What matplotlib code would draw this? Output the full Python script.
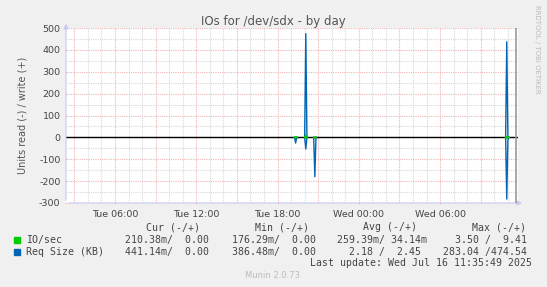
import matplotlib
matplotlib.use("Agg")
import matplotlib.pyplot as plt
from matplotlib.patches import Rectangle
import pandas as pd

# --- data ---
t_start = "2025-07-15 02:23"
t_end = "2025-07-16 11:35:49"

times = ["2025-07-15 19:15", "2025-07-15 19:20", "2025-07-15 19:25",
         "2025-07-15 20:00", "2025-07-15 20:05", "2025-07-15 20:10",
         "2025-07-15 20:40", "2025-07-15 20:45", "2025-07-15 20:50",
         "2025-07-16 10:50", "2025-07-16 10:55", "2025-07-16 11:00", "2025-07-16 11:05"]
segment = [0, 0, 0, 1, 1, 1, 2, 2, 2, 3, 3, 3, 3]
req_write = [0, 0, 0, 0, 474, 0, 0, 0, 0, 0, 437, 4, 0]
req_read = [0, -26, 0, 0, -53, 0, 0, -180, 0, 0, -282, -12, 0]
io_write = [0, 0.5, 0, 0, 9.4, 0.3, 0, 0.2, 0, 0, 3.5, 0.5, 0]
io_read = [0, -0.5, 0, 0, -1.0, 0, 0, -3.0, 0, 0, -3.5, -0.3, 0]

tick_hours = ["2025-07-15 06:00", "2025-07-15 12:00", "2025-07-15 18:00",
              "2025-07-16 00:00", "2025-07-16 06:00"]
tick_labels = ["Tue 06:00", "Tue 12:00", "Tue 18:00", "Wed 00:00", "Wed 06:00"]

legend_names = ["IO/sec", "Req Size (KB)"]
legend_colors = ["#00CC00", "#0066B3"]
col_heads = ["Cur (-/+)", "Min (-/+)", "Avg (-/+)", "Max (-/+)"]
col_rows = [["210.38m/  0.00", "176.29m/  0.00", "259.39m/ 34.14m", "3.50 /  9.41"],
            ["441.14m/  0.00", "386.48m/  0.00", "2.18 /  2.45", "283.04 /474.54"]]

W, H = 547, 287
bg = "#F0F0F0"


def px(x, y):
    return x / W, 1 - y / H


df = pd.DataFrame({"t": pd.to_datetime(times), "seg": segment,
                   "rw": req_write, "rr": req_read, "iw": io_write, "ir": io_read})

fig = plt.figure(figsize=(W / 100, H / 100), dpi=100, facecolor=bg)
ax = fig.add_axes([66 / W, 1 - 203 / H, 452 / W, 175 / H])
ax.set_facecolor("white")

x0 = pd.Timestamp(t_start)
x1 = pd.Timestamp(t_end) + pd.Timedelta(minutes=9)
ax.set_xlim(x0, x1)
ax.set_ylim(-300, 500)

# grid: red major, grey minor, dotted like rrdtool
dot = (0, (1, 1))
red_grid = "#F0B4B4"
grey_grid = "#D8D8D8"
for y in range(-300, 501, 50):
    c = red_grid if y % 100 == 0 else grey_grid
    ax.axhline(y, color=c, lw=0.8, ls=dot, zorder=1)
for h in pd.date_range("2025-07-15 03:00", "2025-07-16 11:00", freq="1h"):
    c = red_grid if h.hour % 3 == 0 else grey_grid
    ax.axvline(h, color=c, lw=0.8, ls=dot, zorder=1)

ax.axhline(0, color="black", lw=1.0, zorder=2)

for s, g in df.groupby("seg"):
    ax.plot(g.t, g.rw, color=legend_colors[1], lw=1.0, zorder=3)
    ax.plot(g.t, g.rr, color=legend_colors[1], lw=1.0, zorder=3)
    ax.plot(g.t, g.iw, color=legend_colors[0], lw=1.1, zorder=4)
    ax.plot(g.t, g.ir, color=legend_colors[0], lw=1.1, zorder=4)

ax.axvline(pd.Timestamp(t_end), color="#999999", lw=1.2, zorder=5)

for sp in ax.spines.values():
    sp.set_visible(False)
ax.annotate("", xy=(0, 1.04), xytext=(0, 0), xycoords="axes fraction",
            arrowprops=dict(arrowstyle="-|>", color="#C8C8F0", lw=0.8,
                            mutation_scale=7), annotation_clip=False)
ax.annotate("", xy=(1.015, 0), xytext=(0, 0), xycoords="axes fraction",
            arrowprops=dict(arrowstyle="-|>", color="#C8C8F0", lw=0.8,
                            mutation_scale=7), annotation_clip=False)

ax.set_yticks(range(-300, 501, 100))
ax.set_yticklabels([str(v) for v in range(-300, 501, 100)])
ax.set_xticks(pd.to_datetime(tick_hours))
ax.set_xticklabels(tick_labels)
ax.tick_params(axis="both", length=2, width=0.6, color=red_grid,
               labelsize=6.8, labelcolor="#444444", direction="inout")
ax.tick_params(axis="y", pad=3)
ax.tick_params(axis="x", pad=4)

ax.set_ylabel("Units read (-) / write (+)", fontsize=7, color="#555555", labelpad=8)

fig.text(*px(273.5, 21), "IOs for /dev/sdx - by day", ha="center", va="center",
         fontsize=8.5, color="#555555")
fig.text(*px(537, 5), "RRDTOOL / TOBI OETIKER", rotation=-90, ha="center", va="top",
         fontsize=5, color="#BBBBBB")

mono = dict(family="DejaVu Sans Mono", fontsize=7.1, color="#444444", va="center")
head_right = [200, 309, 417, 526]
col_right = [209, 316, 427, 527]
row_right_adj = [[0, 0, 0, 0], [0, 0, -6, 0]]
row_y = [240, 252]
for hx, txt in zip(head_right, col_heads):
    fig.text(*px(hx, 227.5), txt, ha="right", **mono)
for i, name in enumerate(legend_names):
    fig.patches.append(Rectangle(px(14, row_y[i] + 3), 6 / W, 6 / H,
                                 transform=fig.transFigure, color=legend_colors[i]))
    fig.text(*px(26, row_y[i]), name, ha="left", **mono)
    for j, txt in enumerate(col_rows[i]):
        fig.text(*px(col_right[j] + row_right_adj[i][j], row_y[i]), txt, ha="right", **mono)
fig.text(*px(532, 263.5), "Last update: Wed Jul 16 11:35:49 2025", ha="right", **mono)
fig.text(*px(272, 276), "Munin 2.0.73", ha="center", va="center", fontsize=6,
         color="#BBBBBB")

fig.savefig("out.png", dpi=100, facecolor=bg)
